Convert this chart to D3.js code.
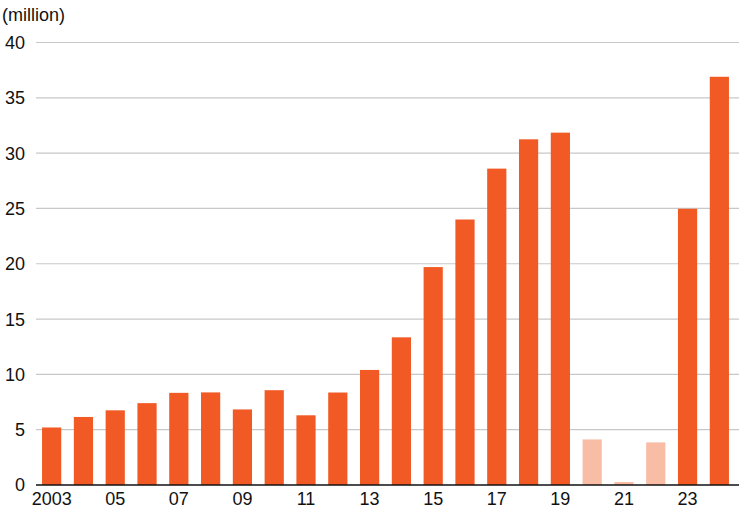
<!DOCTYPE html>
<html><head><meta charset="utf-8">
<script src="https://cdn.jsdelivr.net/npm/d3@7"></script>
<style>body{margin:0;background:#fff}svg{display:block}text{font-family:"Liberation Sans",Arial,sans-serif}</style>
</head><body><svg id="c" width="739" height="513"></svg>
<script>
const years = ["2003","2004","2005","2006","2007","2008","2009","2010","2011","2012","2013","2014","2015","2016","2017","2018","2019","2020","2021","2022","2023","2024"];
const values = [5.2,6.15,6.75,7.4,8.33,8.37,6.83,8.57,6.3,8.36,10.4,13.35,19.7,24.0,28.6,31.25,31.85,4.12,0.27,3.85,24.97,36.9];
const covid = ["2020","2021","2022"];
const xTickLabels = {"2003":"2003","2005":"05","2007":"07","2009":"09","2011":"11","2013":"13","2015":"15","2017":"17","2019":"19","2021":"21","2023":"23"};
const yTicks = [0,5,10,15,20,25,30,35,40];

const svg = d3.select("#c");
const x = d3.scaleBand().domain(years).range([36,735]).paddingInner(0.396).paddingOuter(0.19);
const y = d3.scaleLinear().domain([0,40]).range([485,42.5]);

svg.append("g").selectAll("line").data(yTicks.filter(d=>d>0)).join("line")
  .attr("x1",36).attr("x2",739).attr("y1",d=>y(d)).attr("y2",d=>y(d))
  .attr("stroke","#c8c8c8").attr("stroke-width",1.2);

svg.append("g").selectAll("text").data(yTicks).join("text")
  .attr("x",25).attr("y",d=>y(d)).attr("dy","0.36em").attr("text-anchor","end")
  .attr("font-size",18).attr("fill","#111").text(d=>d);

svg.append("text").attr("x",2).attr("y",21).attr("font-size",18).attr("fill","#111").text("(million)");

svg.append("g").selectAll("rect").data(years).join("rect")
  .attr("x",d=>x(d)).attr("width",x.bandwidth())
  .attr("y",(d,i)=>y(values[i])).attr("height",(d,i)=>y(0)-y(values[i]))
  .attr("fill",d=>covid.includes(d)?"#f8bda4":"#f15a24");

svg.append("line").attr("x1",36).attr("x2",739).attr("y1",y(0)).attr("y2",y(0))
  .attr("stroke","#111").attr("stroke-width",1.5);

const xAxis = d3.axisBottom(x).tickSize(0).tickFormat(d=>xTickLabels[d]||"");
const gx = svg.append("g").attr("transform",`translate(0,${y(0)})`).call(xAxis);
gx.select(".domain").remove();
gx.selectAll("text").attr("font-size",18).attr("fill","#111").attr("dy","0").attr("y",20)
  .style("font-family","'Liberation Sans',Arial,sans-serif");
</script></body></html>
